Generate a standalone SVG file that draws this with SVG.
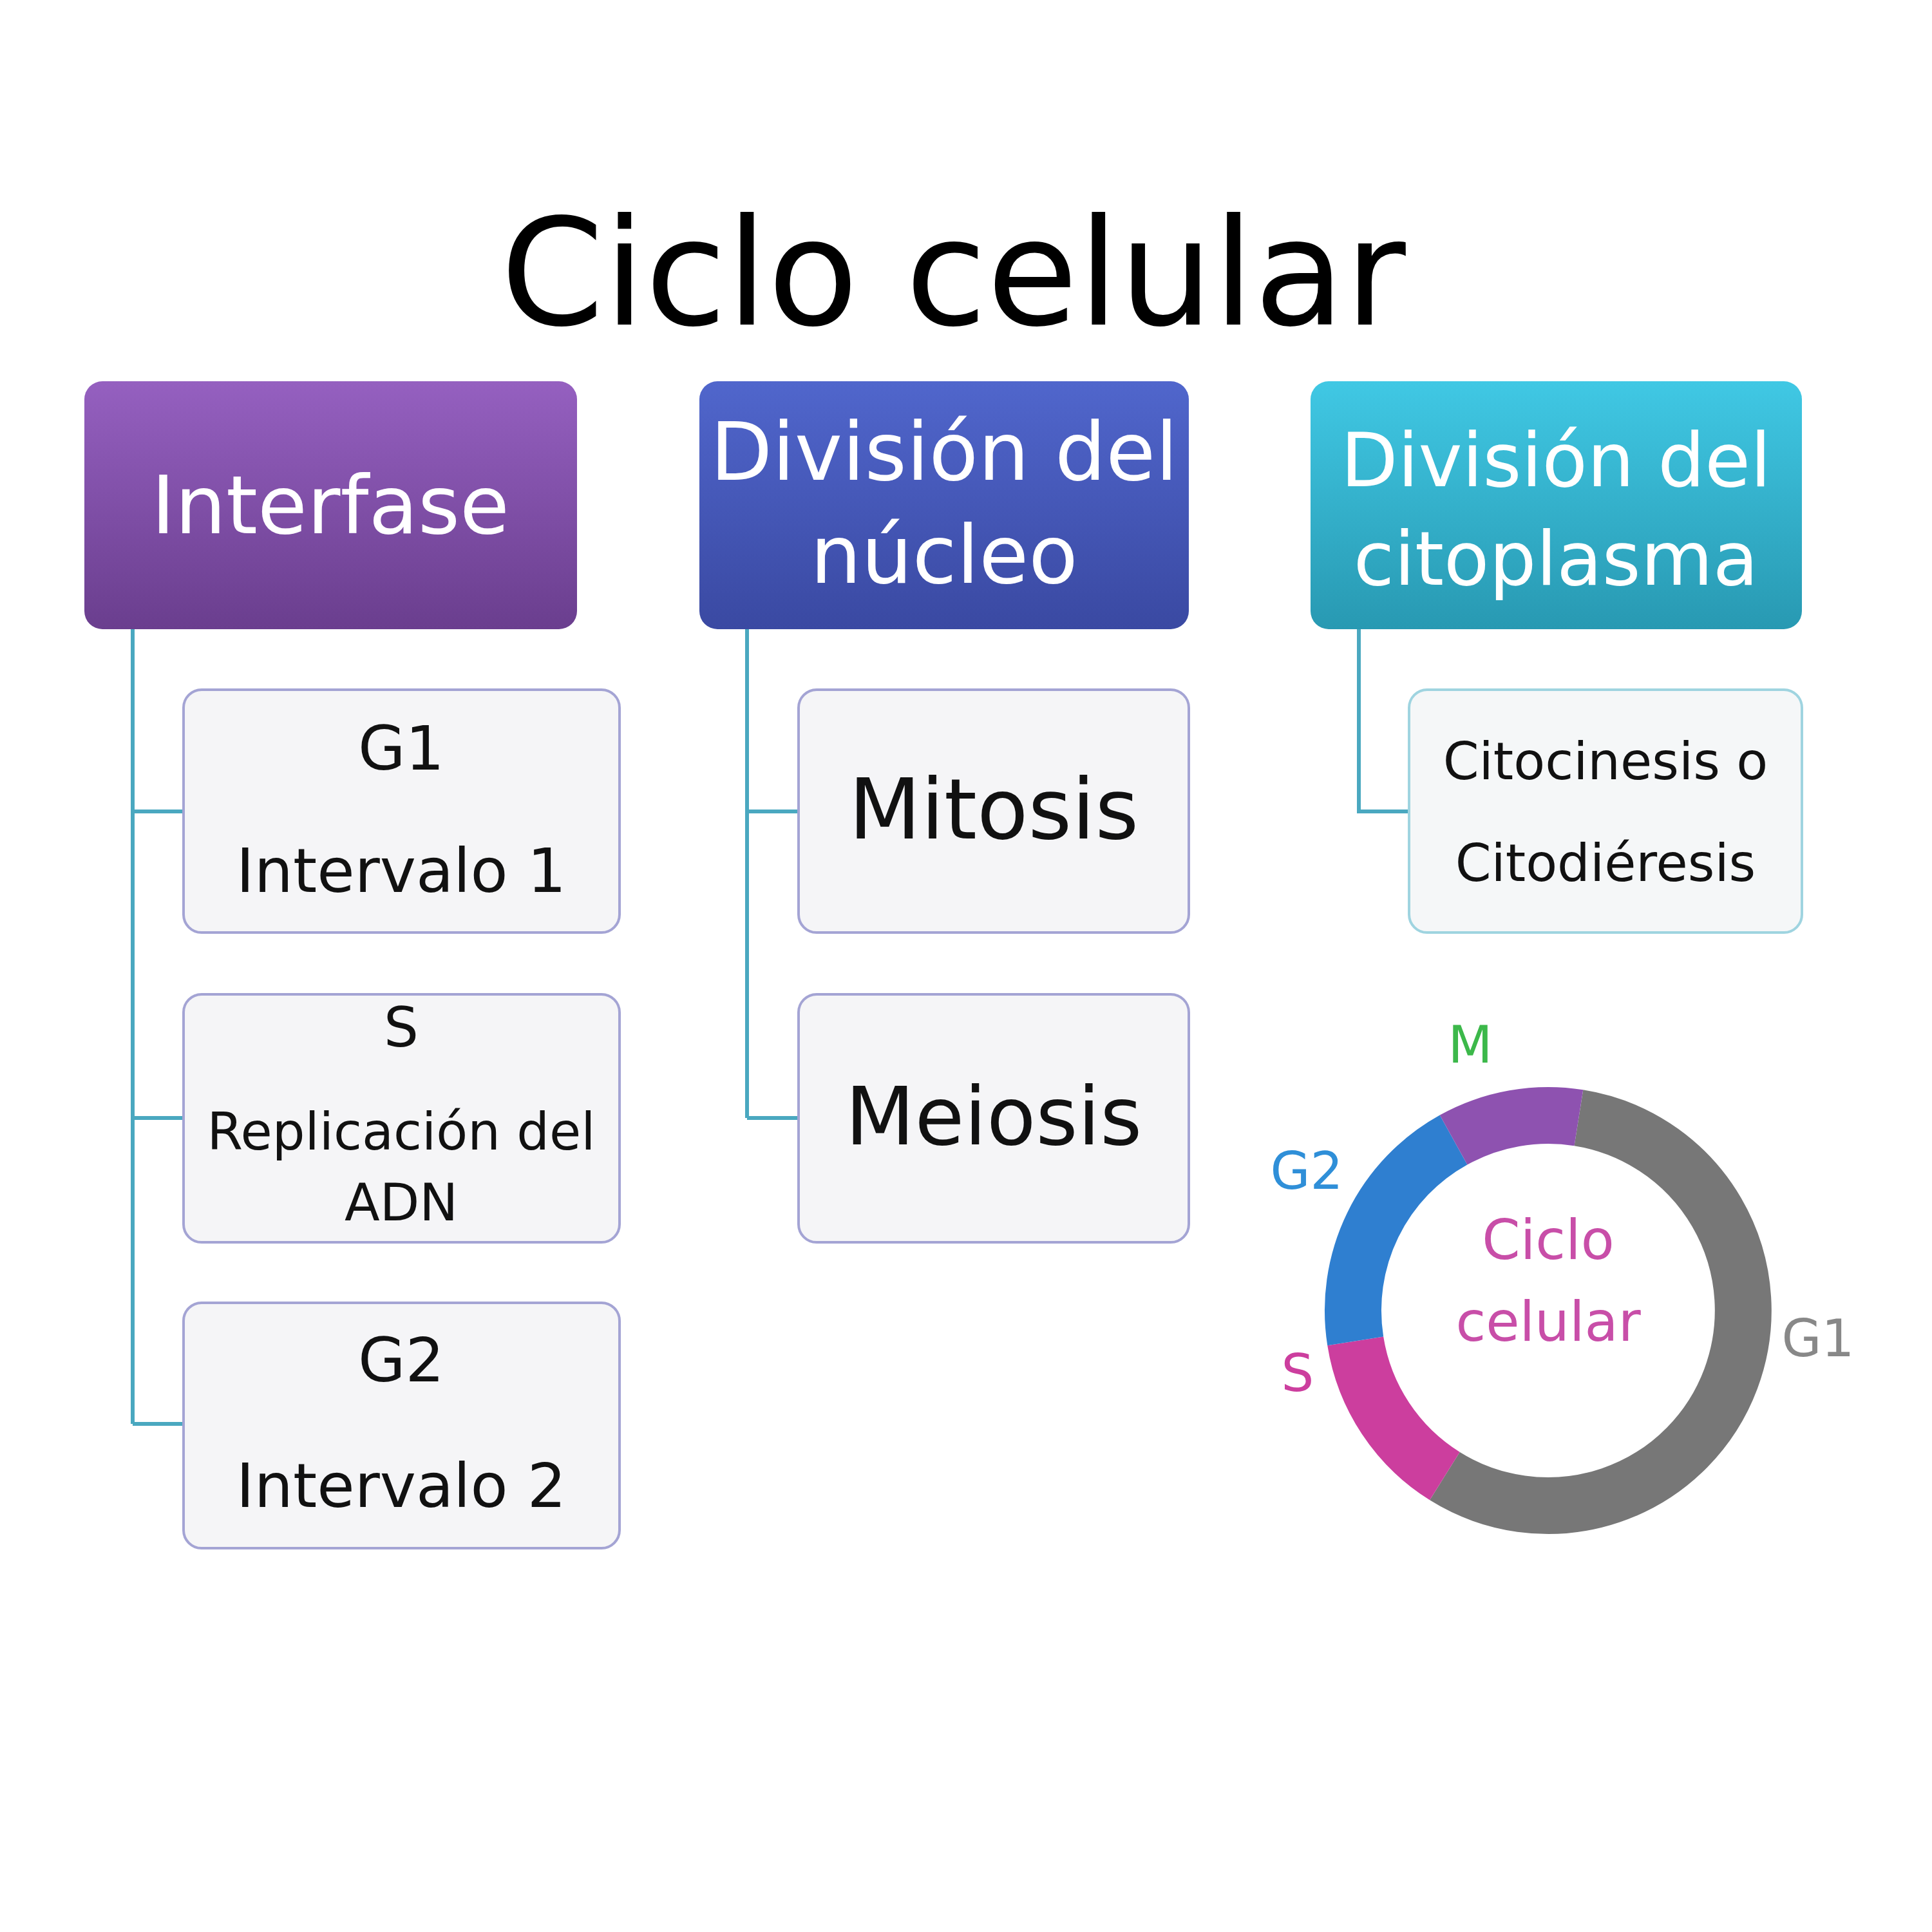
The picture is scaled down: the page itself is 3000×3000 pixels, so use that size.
<svg xmlns="http://www.w3.org/2000/svg" width="3000" height="3000" viewBox="0 0 3000 3000">
<style>
text{font-family:"DejaVu Sans","Liberation Sans",sans-serif;text-anchor:middle}
.hd{fill:#fff;font-size:125px}
.ch{fill:#111;font-size:95px}
.box{fill:#f5f5f7;stroke:#a4a4d4;stroke-width:4}
.boxc{fill:#f5f7f8;stroke:#9fd4e0;stroke-width:4}
.ln{stroke:#4aa8c0;stroke-width:6;fill:none}
.arc{fill:none;stroke-width:88}
</style>
<defs>
<linearGradient id="gp" x1="0" y1="0" x2="0" y2="1"><stop offset="0" stop-color="#9560c0"/><stop offset="1" stop-color="#6a3e8e"/></linearGradient>
<linearGradient id="gb" x1="0" y1="0" x2="0" y2="1"><stop offset="0" stop-color="#5066cc"/><stop offset="1" stop-color="#3a49a2"/></linearGradient>
<linearGradient id="gc" x1="0" y1="0" x2="0" y2="1"><stop offset="0" stop-color="#40c8e4"/><stop offset="1" stop-color="#2899b2"/></linearGradient>
</defs>
<rect width="3000" height="3000" fill="#fff"/>
<text x="1480" y="504" style="font-size:230px;fill:#000">Ciclo celular</text>
<g id="connectors">
<path class="ln" d="M206 977 V2211 M206 1260 H285 M206 1736 H285 M206 2211 H285"/>
<path class="ln" d="M1160 977 V1736 M1160 1260 H1240 M1160 1736 H1240"/>
<path class="ln" d="M2110 977 V1260 H2188"/>
</g>
<g id="interfase"><rect x="131" y="592" width="765" height="385" rx="28" fill="url(#gp)"/><text class="hd" x="513" y="828">Interfase</text></g>
<g id="nucleo"><rect x="1086" y="592" width="760" height="385" rx="28" fill="url(#gb)"/><text class="hd" x="1466" y="745">División del</text><text class="hd" x="1466" y="905">núcleo</text></g>
<g id="citoplasma"><rect x="2035" y="592" width="763" height="385" rx="28" fill="url(#gc)"/><text class="hd" x="2416" y="755" style="font-size:115px">División del</text><text class="hd" x="2416" y="908" style="font-size:115px">citoplasma</text></g>
<g id="g1"><rect class="box" x="285" y="1071" width="677" height="377" rx="28"/><text class="ch" x="623" y="1195">G1</text><text class="ch" x="623" y="1385">Intervalo 1</text></g>
<g id="s"><rect class="box" x="285" y="1544" width="677" height="385" rx="28"/><text class="ch" x="623" y="1625" style="font-size:85px">S</text><text class="ch" x="623" y="1785" style="font-size:80px">Replicación del</text><text class="ch" x="623" y="1895" style="font-size:80px">ADN</text></g>
<g id="g2"><rect class="box" x="285" y="2023" width="677" height="381" rx="28"/><text class="ch" x="623" y="2145">G2</text><text class="ch" x="623" y="2340">Intervalo 2</text></g>
<g id="mitosis"><rect class="box" x="1240" y="1071" width="606" height="377" rx="28"/><text class="ch" x="1543" y="1302" style="font-size:130px">Mitosis</text></g>
<g id="meiosis"><rect class="box" x="1240" y="1544" width="606" height="385" rx="28"/><text class="ch" x="1543" y="1777" style="font-size:125px">Meiosis</text></g>
<g id="citocinesis"><rect class="boxc" x="2188" y="1071" width="610" height="377" rx="28"/><text class="ch" x="2493" y="1210" style="font-size:80px">Citocinesis o</text><text class="ch" x="2493" y="1368" style="font-size:80px">Citodiéresis</text></g>
<g id="donut">
<path class="arc" stroke="#777777" d="M2451.4 1735.7 A303 303 0 1 1 2243.4 2292"/>
<path class="arc" stroke="#cc3e9e" d="M2243.4 2292 A303 303 0 0 1 2104.7 2082.4"/>
<path class="arc" stroke="#2f7fd0" d="M2104.7 2082.4 A303 303 0 0 1 2257.1 1770"/>
<path class="arc" stroke="#8e52b0" d="M2257.1 1770 A303 303 0 0 1 2451.4 1735.7"/>
<text x="2404" y="1955" style="font-size:85px;fill:#c84ea8">Ciclo</text>
<text x="2404" y="2082" style="font-size:85px;fill:#c84ea8">celular</text>
<text x="2283" y="1650" style="font-size:80px;fill:#3cb84a">M</text>
<text x="2029" y="1846" style="font-size:80px;fill:#2f8fd8">G2</text>
<text x="2015" y="2160" style="font-size:80px;fill:#cc3e9e">S</text>
<text x="2823" y="2106" style="font-size:80px;fill:#888">G1</text>
</g>
</svg>
